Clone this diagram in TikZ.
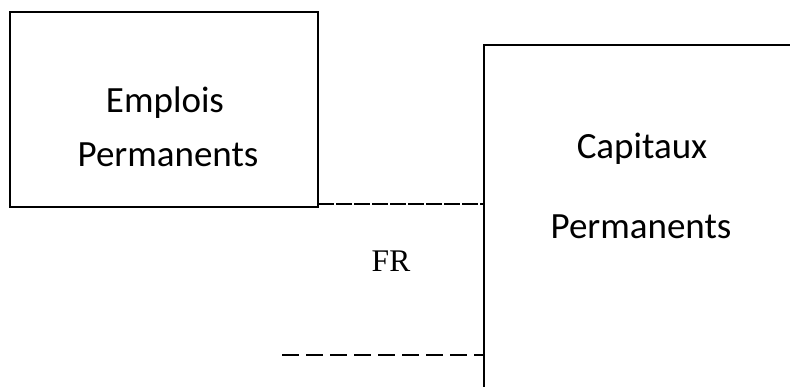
\documentclass[tikz,border=0pt]{standalone}
\usepackage{fontspec}
\setmainfont{Liberation Serif}
\newfontfamily\boxfont{Carlito}
\begin{document}
\begin{tikzpicture}[x=1pt,y=-1pt,
  boxframe/.style={draw=black,line width=1.8pt,inner sep=0pt,outer sep=0pt},
  boxtext/.style={font=\boxfont\fontsize{37}{44}\selectfont,anchor=base,inner sep=0pt,text=black},
  frtext/.style={font=\fontsize{31.5}{36}\selectfont,anchor=base,inner sep=0pt,text=black},
  gapline/.style={draw=black,line width=1.3pt}]
\useasboundingbox (0,0) rectangle (790,386);
\clip (0,0) rectangle (790,386);
% left box
\node[boxframe,minimum width=308pt,minimum height=195pt] (emp) at (164,109.5) {};
\node[boxtext] (emp1) at (165,112) {Emplois};
\node[boxtext] (emp2) at (168,166) {Permanents};
% right box (extends beyond the page)
\node[boxframe,minimum width=330pt,minimum height=360pt] (cap) at (649,225) {};
\node[boxtext] (cap1) at (642,158) {Capitaux};
\node[boxtext] (cap2) at (641,238) {Permanents};
% FR label
\node[frtext] (fr) at (391,271) {FR};
% dashed levels
\coordinate (a1) at (318,204);
\coordinate (a2) at (cap.west |- a1);
\draw[gapline,dash pattern=on 16pt off 2pt] (a1) -- (a2);
\coordinate (b1) at (282,355);
\coordinate (b2) at (cap.west |- b1);
\draw[gapline,dash pattern=on 17pt off 7pt] (b1) -- (b2);
\end{tikzpicture}
\end{document}
